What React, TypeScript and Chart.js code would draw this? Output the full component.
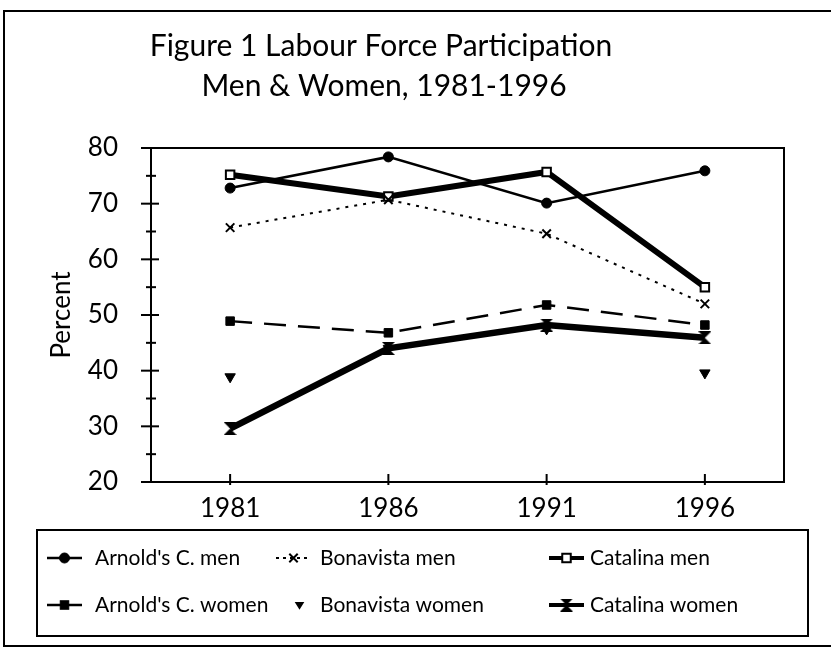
import React, { useEffect, useRef } from 'react';
import { Chart, registerables } from 'chart.js';

Chart.register(...registerables);

const years = ['1981', '1986', '1991', '1996'];
const arnoldsMen = [72.8, 78.4, 70.1, 75.9];
const bonavistaMen = [65.7, 70.7, 64.6, 52.0];
const catalinaMen = [75.2, 71.3, 75.7, 55.0];
const arnoldsWomen = [48.9, 46.8, 51.8, 48.2];
const bonavistaWomen = [38.9, 44.0, 47.5, 39.6];
const catalinaWomen = [29.6, 44.0, 48.2, 45.9];
const seriesLabels = [
  "Arnold's C. men",
  'Bonavista men',
  'Catalina men',
  "Arnold's C. women",
  'Bonavista women',
  'Catalina women',
];
const titleLines = ['Figure 1 Labour Force Participation', 'Men & Women, 1981-1996'];
const yTitle = 'Percent';

const FONT = 'Lato, "Open Sans", sans-serif';

function makeHourglass(size: number): HTMLCanvasElement {
  const c = document.createElement('canvas');
  c.width = size;
  c.height = size;
  const g = c.getContext('2d')!;
  g.fillStyle = '#000';
  g.beginPath();
  g.moveTo(0, 0);
  g.lineTo(size, 0);
  g.lineTo(size / 2, size / 2);
  g.closePath();
  g.fill();
  g.beginPath();
  g.moveTo(size / 2, size / 2);
  g.lineTo(size, size);
  g.lineTo(0, size);
  g.closePath();
  g.fill();
  return c;
}

function drawMarker(ctx: CanvasRenderingContext2D, ds: any, x: number, y: number) {
  const style = ds.pointStyle;
  const r = ds.pointRadius;
  ctx.save();
  ctx.setLineDash([]);
  ctx.lineWidth = ds.pointBorderWidth ?? 1;
  ctx.strokeStyle = ds.pointBorderColor;
  ctx.fillStyle = ds.pointBackgroundColor;
  if (style instanceof HTMLCanvasElement) {
    ctx.drawImage(style, x - style.width / 2, y - style.height / 2);
  } else if (style === 'circle') {
    ctx.beginPath();
    ctx.arc(x, y, r, 0, Math.PI * 2);
    ctx.fill();
    ctx.stroke();
  } else if (style === 'rect') {
    const s = r * Math.SQRT1_2 * 2;
    ctx.fillRect(x - s / 2, y - s / 2, s, s);
    ctx.strokeRect(x - s / 2, y - s / 2, s, s);
  } else if (style === 'crossRot') {
    const d = r * 0.7;
    ctx.beginPath();
    ctx.moveTo(x - d, y - d);
    ctx.lineTo(x + d, y + d);
    ctx.moveTo(x + d, y - d);
    ctx.lineTo(x - d, y + d);
    ctx.stroke();
  } else if (style === 'triangle') {
    ctx.beginPath();
    ctx.moveTo(x - r * 0.8, y - r * 0.5);
    ctx.lineTo(x + r * 0.8, y - r * 0.5);
    ctx.lineTo(x, y + r * 0.8);
    ctx.closePath();
    ctx.fill();
  }
  ctx.restore();
}

const framePlugin = {
  id: 'framePlugin',
  beforeDraw(chart: any) {
    const { ctx, width, height } = chart;
    ctx.save();
    ctx.fillStyle = '#fff';
    ctx.fillRect(0, 0, width, height);
    ctx.strokeStyle = '#000';
    ctx.lineWidth = 2;
    ctx.beginPath();
    ctx.moveTo(width, 11);
    ctx.lineTo(4, 11);
    ctx.lineTo(4, 646);
    ctx.lineTo(width, 646);
    ctx.stroke();
    ctx.fillStyle = '#000';
    ctx.font = '30px ' + FONT;
    ctx.textAlign = 'center';
    ctx.textBaseline = 'middle';
    ctx.fillText(titleLines[0], 381, 46);
    ctx.fillText(titleLines[1], 384, 86);
    ctx.restore();
  },
  afterDraw(chart: any) {
    const { ctx, chartArea } = chart;
    const ys = chart.scales.y;
    const xs = chart.scales.x;
    ctx.save();
    ctx.strokeStyle = '#000';
    ctx.lineWidth = 2;
    ctx.strokeRect(chartArea.left, chartArea.top, chartArea.right - chartArea.left, chartArea.bottom - chartArea.top);
    for (let v = ys.min; v <= ys.max; v += 5) {
      const py = ys.getPixelForValue(v);
      const major = v % 10 === 0;
      ctx.beginPath();
      ctx.moveTo(chartArea.left - (major ? 10 : 5), py);
      ctx.lineTo(chartArea.left + (major ? 8 : 5), py);
      ctx.stroke();
    }
    for (let i = 0; i < years.length; i++) {
      const px = xs.getPixelForValue(i);
      ctx.beginPath();
      ctx.moveTo(px, chartArea.bottom + 3);
      ctx.lineTo(px, chartArea.bottom - 8);
      ctx.stroke();
    }
    const L = { left: 37, top: 530, right: 808, bottom: 636 };
    ctx.lineWidth = 2;
    ctx.strokeRect(L.left, L.top, L.right - L.left, L.bottom - L.top);
    const rowsY = [558, 605];
    const sampleX = [47, 276, 549];
    const textX = [95, 320, 590];
    ctx.font = '21px ' + FONT;
    ctx.textBaseline = 'middle';
    ctx.textAlign = 'left';
    chart.data.datasets.forEach((ds: any, i: number) => {
      const col = i % 3;
      const row = Math.floor(i / 3);
      const y = rowsY[row];
      const x0 = sampleX[col];
      const x1 = x0 + 35;
      if (ds.showLine !== false) {
        ctx.save();
        ctx.strokeStyle = '#000';
        ctx.lineWidth = Math.min(ds.borderWidth, 4);
        ctx.setLineDash(ds.borderDash && ds.borderDash.length ? [3, 4] : []);
        if (ds.borderDash && ds.borderDash[0] > 10) ctx.setLineDash([]);
        ctx.beginPath();
        ctx.moveTo(x0, y);
        ctx.lineTo(x1, y);
        ctx.stroke();
        ctx.restore();
      }
      drawMarker(ctx, ds, (x0 + x1) / 2 + (ds.showLine === false ? 6 : 0), y);
      ctx.fillStyle = '#000';
      ctx.fillText(ds.label, textX[col], y);
    });
    ctx.restore();
  },
};

export default function App() {
  const ref = useRef<HTMLCanvasElement | null>(null);
  useEffect(() => {
    document.body.style.margin = '0';
    const hourglass = makeHourglass(13);
    const chart = new Chart(ref.current!, {
      type: 'line',
      data: {
        labels: years,
        datasets: [
          {
            label: seriesLabels[0],
            data: arnoldsMen,
            borderColor: '#000',
            borderWidth: 2.5,
            pointStyle: 'circle',
            pointRadius: 5,
            pointBackgroundColor: '#000',
            pointBorderColor: '#000',
            pointBorderWidth: 1,
          },
          {
            label: seriesLabels[1],
            data: bonavistaMen,
            borderColor: '#000',
            borderWidth: 2,
            borderDash: [3, 6],
            pointStyle: 'crossRot',
            pointRadius: 6,
            pointBackgroundColor: '#000',
            pointBorderColor: '#000',
            pointBorderWidth: 2,
          },
          {
            label: seriesLabels[2],
            data: catalinaMen,
            borderColor: '#000',
            borderWidth: 6,
            pointStyle: 'rect',
            pointRadius: 6,
            pointBackgroundColor: '#fff',
            pointBorderColor: '#000',
            pointBorderWidth: 2,
          },
          {
            label: seriesLabels[3],
            data: arnoldsWomen,
            borderColor: '#000',
            borderWidth: 2.5,
            borderDash: [22, 12],
            pointStyle: 'rect',
            pointRadius: 6,
            pointBackgroundColor: '#000',
            pointBorderColor: '#000',
            pointBorderWidth: 1,
          },
          {
            label: seriesLabels[4],
            data: bonavistaWomen,
            showLine: false,
            borderColor: '#000',
            pointStyle: 'triangle',
            rotation: 180,
            pointRadius: 6,
            pointBackgroundColor: '#000',
            pointBorderColor: '#000',
            pointBorderWidth: 1,
          },
          {
            label: seriesLabels[5],
            data: catalinaWomen,
            borderColor: '#000',
            borderWidth: 6.5,
            pointStyle: hourglass,
            pointRadius: 6,
            pointBackgroundColor: '#000',
            pointBorderColor: '#000',
            pointBorderWidth: 1,
          },
        ],
      },
      options: {
        animation: false,
        responsive: false,
        layout: { padding: { top: 148, left: 46, right: 47, bottom: 122 } },
        plugins: {
          legend: { display: false },
          tooltip: { enabled: false },
          title: { display: false },
        },
        scales: {
          x: {
            offset: true,
            grid: { display: false, drawTicks: false },
            border: { display: false },
            ticks: { color: '#000', padding: 11, font: { family: FONT, size: 26 } },
            afterFit: (s: any) => {
              s.height = 48;
            },
          },
          y: {
            min: 20,
            max: 80,
            grid: { display: false, drawTicks: false },
            border: { display: false },
            ticks: {
              color: '#000',
              stepSize: 10,
              padding: 33,
              font: { family: FONT, size: 26 },
            },
            title: {
              display: true,
              text: yTitle,
              color: '#000',
              padding: 0,
              font: { family: FONT, size: 26 },
            },
            afterFit: (s: any) => {
              s.width = 105;
            },
          },
        },
      },
      plugins: [framePlugin],
    });
    return () => chart.destroy();
  }, []);
  return <canvas ref={ref} width={831} height={652} style={{ display: 'block' }} />;
}
